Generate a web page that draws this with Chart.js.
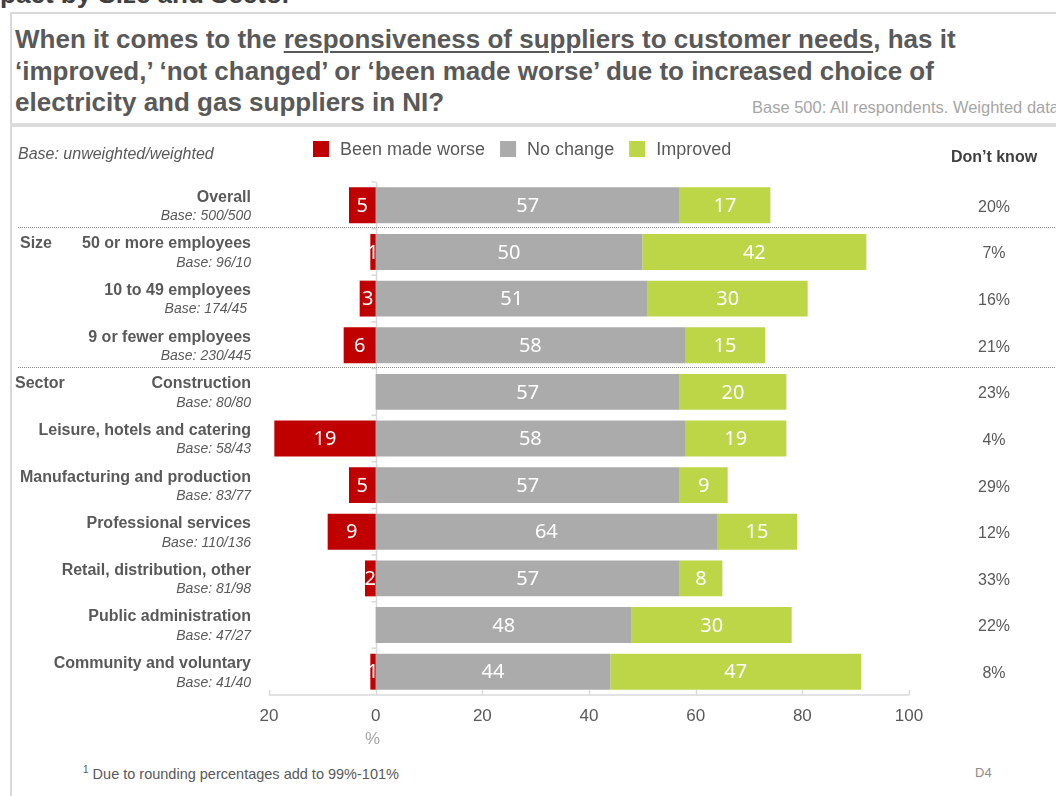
<!DOCTYPE html>
<html lang="en">
<head>
<meta charset="UTF-8">
<title>Responsiveness of suppliers to customer needs</title>
<script src="https://cdn.jsdelivr.net/npm/chart.js"></script>
<style>
    * { margin: 0; padding: 0; box-sizing: border-box; }
    body {
        width: 1056px;
        height: 796px;
        overflow: hidden;
        position: relative;
        background: #fff;
        font-family: 'Liberation Sans', Arial, sans-serif;
    }
    .frame {
        position: absolute;
        left: 10px; top: 12px;
        width: 1100px; height: 820px;
        border-left: 2px solid #d9d9d9;
        border-top: 2px solid #d9d9d9;
    }
    .band {
        position: absolute;
        left: 10px; top: 123px;
        width: 1100px; height: 4px;
        background: #dcdcdc;
    }
    .heading {
        position: absolute;
        right: 764px; top: -19px;
        font: bold 26px 'Liberation Sans', Arial, sans-serif;
        line-height: 26px;
        color: #404040;
        white-space: nowrap;
    }
    .title {
        position: absolute;
        left: 15px; top: 24px;
        font: bold 26px 'Liberation Sans', Arial, sans-serif;
        line-height: 31.5px;
        color: #595959;
        white-space: nowrap;
    }
    .title u { text-underline-offset: 3px; text-decoration-thickness: 1.5px; }
    .basenote {
        position: absolute;
        left: 752px; top: 97px;
        font: 16.5px 'Liberation Sans', Arial, sans-serif;
        line-height: 20px;
        color: #a6a6a6;
        white-space: nowrap;
    }
    .footnote {
        position: absolute;
        left: 83px; top: 764px;
        font: 14.5px 'Liberation Sans', Arial, sans-serif;
        color: #595959;
    }
    .footnote sup { font-size: 10px; }
    .code {
        position: absolute;
        left: 975px; top: 765px;
        font: 13px 'Liberation Sans', Arial, sans-serif;
        color: #8c8c8c;
    }
    canvas { position: absolute; left: 0; top: 0; }
</style>
</head>
<body>
    <div class="heading">Impact by Size and Sector</div>
    <div class="frame"></div>
    <div class="band"></div>
    <div class="title">When it comes to the <u>responsiveness of suppliers to customer needs</u>, has it<br>‘improved,’ ‘not changed’ or ‘been made worse’ due to increased choice of<br>electricity and gas suppliers in NI?</div>
    <div class="basenote">Base 500: All respondents. Weighted data</div>
    <div class="footnote"><sup>1</sup> Due to rounding percentages add to 99%-101%</div>
    <div class="code">D4</div>

    <canvas id="chart" width="1056" height="796"></canvas>

<script>
    // rows, top to bottom
    const rowNames = [
        'Overall',
        '50 or more employees',
        '10 to 49 employees',
        '9 or fewer employees',
        'Construction',
        'Leisure, hotels and catering',
        'Manufacturing and production',
        'Professional services',
        'Retail, distribution, other',
        'Public administration',
        'Community and voluntary'
    ];
    const rowBases = [
        'Base: 500/500', 'Base: 96/10', 'Base: 174/45 ', 'Base: 230/445',
        'Base: 80/80', 'Base: 58/43', 'Base: 83/77', 'Base: 110/136',
        'Base: 81/98', 'Base: 47/27', 'Base: 41/40'
    ];

    const madeWorse = [5, 1, 3, 6, 0, 19, 5, 9, 2, 0, 1];
    const noChange  = [57, 50, 51, 58, 57, 58, 57, 64, 57, 48, 44];
    const improved  = [17, 42, 30, 15, 20, 19, 9, 15, 8, 30, 47];
    const dontKnow  = [20, 7, 16, 21, 23, 4, 29, 12, 33, 22, 8];

    // group headings and the row each one starts at
    const groups = [
        { label: 'Size', first: 1, x: 20 },
        { label: 'Sector', first: 4, x: 15 }
    ];

    const RED = '#c00000', GREY = '#ababab', GREEN = '#bdd648';
    const TEXT = '#595959', LINE = '#d9d9d9';
    const SANS = '"Liberation Sans", Arial, sans-serif';

    const decorations = {
        id: 'decorations',
        beforeDatasetsDraw(chart) {
            const { ctx, chartArea: a, scales: { x } } = chart;
            ctx.save();
            ctx.strokeStyle = LINE;
            ctx.lineWidth = 1.5;
            ctx.beginPath();
            // bottom axis with upward tick marks
            ctx.moveTo(a.left, a.bottom);
            ctx.lineTo(a.right, a.bottom);
            x.ticks.forEach(t => {
                const px = Math.round(x.getPixelForValue(t.value)) + 0.5;
                ctx.moveTo(px, a.bottom);
                ctx.lineTo(px, a.bottom - 5);
            });
            // zero line with small ticks between the rows
            const x0 = Math.round(x.getPixelForValue(0)) + 0.5;
            ctx.moveTo(x0, a.top);
            ctx.lineTo(x0, a.bottom);
            for (let i = 0; i <= rowNames.length; i++) {
                const py = a.top + (a.bottom - a.top) * i / rowNames.length;
                ctx.moveTo(x0 - 5, py);
                ctx.lineTo(x0, py);
            }
            ctx.stroke();
            ctx.restore();
        },
        afterDatasetsDraw(chart) {
            const ctx = chart.ctx;
            ctx.save();
            ctx.font = '20px "Noto Sans", sans-serif';
            ctx.fillStyle = '#fff';
            ctx.textAlign = 'center';
            ctx.textBaseline = 'middle';
            chart.data.datasets.forEach((ds, i) => {
                chart.getDatasetMeta(i).data.forEach((bar, j) => {
                    const v = ds.data[j];
                    if (!v) return;
                    const { x, y, base } = bar.getProps(['x', 'y', 'base'], true);
                    ctx.fillText(Math.abs(v), (x + base) / 2, y + 1);
                });
            });
            ctx.restore();
        },
        afterDraw(chart) {
            const { ctx, scales: { x, y } } = chart;
            ctx.save();
            ctx.textBaseline = 'middle';
            ctx.fillStyle = TEXT;

            // legend
            let lx = 313;
            ctx.font = '18px ' + SANS;
            ctx.textAlign = 'left';
            chart.data.datasets.forEach(ds => {
                ctx.fillStyle = ds.backgroundColor;
                ctx.fillRect(lx, 141, 16, 16);
                ctx.fillStyle = TEXT;
                ctx.fillText(ds.label, lx + 27, 150);
                lx += 27 + ctx.measureText(ds.label).width + 15;
            });

            ctx.font = 'italic 16px ' + SANS;
            ctx.fillText('Base: unweighted/weighted', 18, 155);

            ctx.font = 'bold 16px ' + SANS;
            ctx.textAlign = 'center';
            ctx.fillStyle = '#404040';
            ctx.fillText('Don’t know', 994, 158);

            // row labels and the don't know column
            rowNames.forEach((name, i) => {
                const cy = y.getPixelForValue(i);
                ctx.fillStyle = TEXT;
                ctx.textAlign = 'right';
                ctx.font = 'bold 16px ' + SANS;
                ctx.fillText(name, 251, cy - 8);
                ctx.font = 'italic 14px ' + SANS;
                ctx.fillText(rowBases[i], 251, cy + 11);
                ctx.textAlign = 'center';
                ctx.font = '16px ' + SANS;
                ctx.fillText(dontKnow[i] + '%', 994, cy + 2);
            });

            // group headings and dotted separators
            groups.forEach(g => {
                const cy = y.getPixelForValue(g.first);
                ctx.textAlign = 'left';
                ctx.font = 'bold 16px ' + SANS;
                ctx.fillStyle = TEXT;
                ctx.fillText(g.label, g.x, cy - 8);
                const sy = Math.round((cy + y.getPixelForValue(g.first - 1)) / 2) - 1.5;
                ctx.strokeStyle = '#8c8c8c';
                ctx.lineWidth = 1;
                ctx.setLineDash([1, 1]);
                ctx.beginPath();
                ctx.moveTo(18, sy);
                ctx.lineTo(1056, sy);
                ctx.stroke();
            });
            ctx.setLineDash([]);

            // unit under the zero tick
            ctx.textAlign = 'center';
            ctx.fillStyle = '#a6a6a6';
            ctx.font = '17px ' + SANS;
            ctx.fillText('%', x.getPixelForValue(0) - 3, 739);
            ctx.restore();
        }
    };

    new Chart(document.getElementById('chart'), {
        type: 'bar',
        data: {
            labels: rowNames,
            datasets: [
                { label: 'Been made worse', data: madeWorse.map(v => -v), backgroundColor: RED },
                { label: 'No change', data: noChange, backgroundColor: GREY },
                { label: 'Improved', data: improved, backgroundColor: GREEN }
            ]
        },
        options: {
            indexAxis: 'y',
            responsive: false,
            animation: false,
            barPercentage: 0.77,
            categoryPercentage: 1,
            layout: { padding: { left: 269, right: 147, top: 182, bottom: 71 } },
            plugins: {
                legend: { display: false },
                tooltip: { enabled: false }
            },
            scales: {
                x: {
                    type: 'linear',
                    stacked: true,
                    min: -20,
                    max: 100,
                    grid: { display: false, drawTicks: false },
                    border: { display: false },
                    ticks: {
                        stepSize: 20,
                        padding: 11,
                        color: TEXT,
                        font: { family: SANS, size: 17 },
                        callback: v => Math.abs(v)
                    },
                    afterFit: scale => { scale.height = 30; }
                },
                y: {
                    stacked: true,
                    display: false
                }
            }
        },
        plugins: [decorations]
    });
</script>
</body>
</html>
